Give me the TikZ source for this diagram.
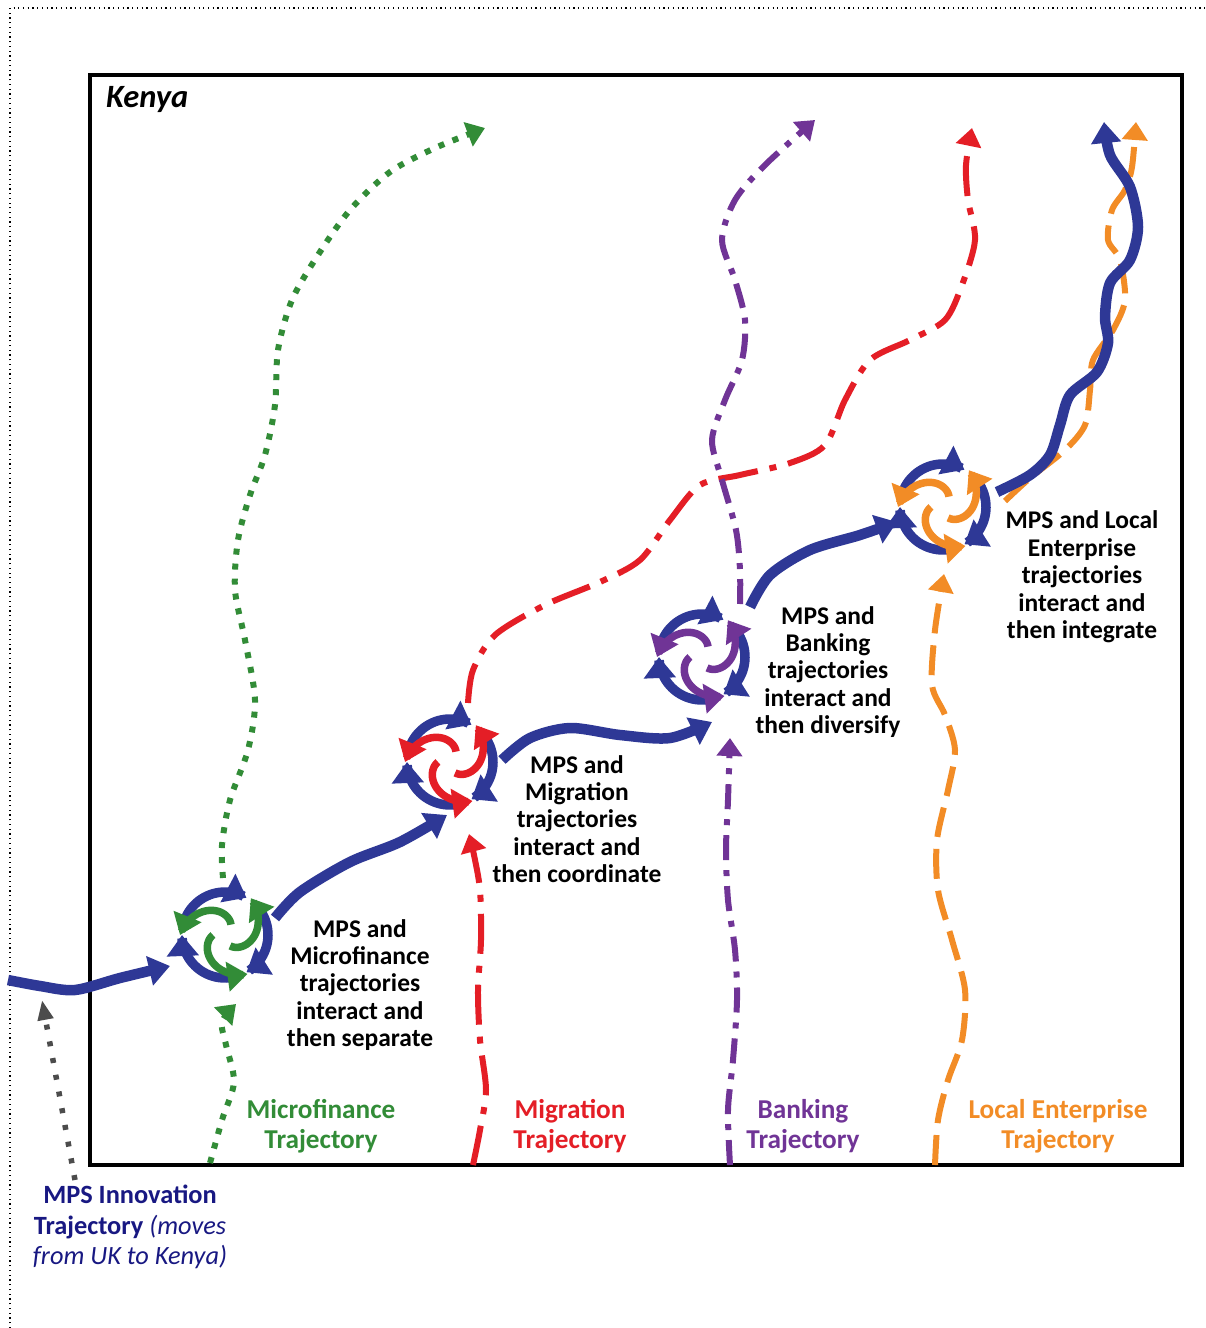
\documentclass[tikz,border=0pt]{standalone}
\usepackage{fontspec}
\setmainfont{Carlito}
\usetikzlibrary{arrows.meta, calc}
\definecolor{mpsblue}{RGB}{46, 56, 150}
\definecolor{mfgreen}{RGB}{50, 140, 55}
\definecolor{migred}{RGB}{228, 30, 38}
\definecolor{bankpurple}{RGB}{112, 52, 150}
\definecolor{leorange}{RGB}{242, 140, 38}
\definecolor{innovnavy}{RGB}{24, 24, 130}

% swirl where two trajectories meet: #1 centre, #2 colour
\newcommand{\swirl}[2]{
    \foreach \a/\b in {195/300, 315/420, 75/180}
        \draw[swirlmps, shift={(#1)}] plot[domain=\a:\b, samples=24] (\x:43);
    \foreach \a in {65, 300, 180}
        \draw[swirlpart, #2, shift={(#1)}] plot[domain=0:1, samples=24] ({\a-120*\x}:{12+33*\x});
}

\begin{document}
\begin{tikzpicture}[
        x=0.02cm, y=-0.02cm,
        mps/.style={mpsblue, line width=0.21cm, -{Triangle[width=0.58cm, length=0.42cm]}},
        traj/.style={line width=0.12cm, -{Triangle[width=0.5cm, length=0.36cm]}},
        swirlmps/.style={mpsblue, line width=0.19cm, -{Triangle[width=0.62cm, length=0.42cm]}},
        swirlpart/.style={line width=0.15cm, -{Triangle[width=0.58cm, length=0.4cm]}},
        note/.style={align=center, font=\fontsize{14.5}{15.6}\selectfont\bfseries},
        lbl/.style={align=center, font=\fontsize{15.5}{16.8}\selectfont\bfseries}
    ]
        \useasboundingbox (0,0) rectangle (1206,1328);

        % Frames
        \draw[dotted, line width=0.7pt] (10,1328) -- (10,8) -- (1206,8);
        \draw[line width=0.08cm] (90,75) rectangle (1182,1165);
        \node[anchor=west, font=\fontsize{18.5}{21}\selectfont\bfseries\itshape] (kenya) at (100,100) {Kenya};

        % Meeting points
        \coordinate (swA) at (225,935);
        \coordinate (swB) at (450,762);
        \coordinate (swC) at (702,657);
        \coordinate (swD) at (943,507);

        % Microfinance trajectory
        \draw[traj, mfgreen, dash pattern=on 0.12cm off 0.18cm] plot[smooth] coordinates {
            (210,1163) (222,1120) (234,1082) (226,1045) (222,1022) (236,1004)};
        \draw[traj, mfgreen, dash pattern=on 0.12cm off 0.18cm] plot[smooth] coordinates {
            (223,878) (222,845) (230,800) (248,750) (255,700) (245,640) (235,590) (238,540)
            (250,495) (265,455) (275,405) (278,350) (292,300) (318,255) (350,210) (390,172)
            (435,148) (485,128)};

        % Migration trajectory
        \draw[traj, migred, dash pattern=on 0.8cm off 0.24cm on 0.14cm off 0.24cm] plot[smooth] coordinates {
            (473,1165) (480,1130) (486,1090) (480,1040) (478,990) (481,940) (480,890) (474,855) (469,834)};
        \draw[traj, migred, dash pattern=on 0.8cm off 0.24cm on 0.14cm off 0.24cm] plot[smooth] coordinates {
            (468,703) (473,670) (495,635) (545,605) (600,582) (640,560) (670,520) (700,485)
            (740,475) (790,463) (825,445) (845,400) (870,360) (910,340) (945,320) (962,285)
            (975,240) (968,200) (966,165) (972,128)};

        % Banking trajectory
        \draw[traj, bankpurple, dash pattern=on 0.5cm off 0.2cm on 0.12cm off 0.2cm] plot[smooth] coordinates {
            (730,1165) (728,1110) (733,1060) (737,1000) (735,950) (728,900) (726,850) (728,800) (730,738)};
        \draw[traj, bankpurple, dash pattern=on 0.5cm off 0.2cm on 0.12cm off 0.2cm] plot[smooth] coordinates {
            (740,604) (740,570) (736,530) (722,480) (712,440) (725,400) (742,360) (745,320)
            (735,280) (722,240) (735,200) (765,165) (815,120)};

        % Local enterprise trajectory
        \draw[traj, leorange, dash pattern=on 0.6cm off 0.24cm] plot[smooth] coordinates {
            (935,1165) (938,1120) (948,1080) (962,1040) (965,990) (952,940) (938,890) (937,840)
            (948,790) (955,750) (945,715) (932,685) (935,630) (944,574)};
        \draw[traj, leorange, dash pattern=on 0.6cm off 0.24cm] plot[smooth] coordinates {
            (1005,501) (1030,478) (1065,450) (1085,425) (1090,390) (1093,360) (1113,330) (1125,300)
            (1120,260) (1108,240) (1112,210) (1125,190) (1132,167) (1136,122)};

        % MPS innovation trajectory
        \draw[mps] plot[smooth] coordinates {(8,980) (40,986) (75,990) (120,978) (170,966)};
        \draw[mps] plot[smooth] coordinates {(275,918) (300,892) (350,862) (400,842) (447,815)};
        \draw[mps] plot[smooth] coordinates {(502,760) (530,738) (570,728) (620,735) (670,738) (712,722)};
        \draw[mps] plot[smooth] coordinates {(750,607) (770,575) (810,550) (860,535) (897,522)};
        \draw[mps] plot[smooth] coordinates {
            (997,492) (1030,475) (1050,455) (1060,425) (1070,395) (1097,372) (1108,343) (1105,317)
            (1110,283) (1130,260) (1138,227) (1130,187) (1110,155) (1104,122)};

        % Swirls
        \swirl{swA}{mfgreen}
        \swirl{swB}{migred}
        \swirl{swC}{bankpurple}
        \swirl{swD}{leorange}

        % Interaction notes
        \node[note] (noteA) at (360,985) {MPS and\\Microfinance\\trajectories\\interact and\\then separate};
        \node[note] (noteB) at (577,819) {MPS and\\Migration\\trajectories\\interact and\\then coordinate};
        \node[note] (noteC) at (828,672) {MPS and\\Banking\\trajectories\\interact and\\then diversify};
        \node[note] (noteD) at (1082,577) {MPS and Local\\Enterprise\\trajectories\\interact and\\then integrate};

        % Trajectory labels
        \node[lbl, mfgreen] (lblA) at (321,1126) {Microfinance\\Trajectory};
        \node[lbl, migred] (lblB) at (570,1126) {Migration\\Trajectory};
        \node[lbl, bankpurple] (lblC) at (803,1126) {Banking\\Trajectory};
        \node[lbl, leorange] (lblD) at (1058,1126) {Local Enterprise\\Trajectory};

        % MPS origin
        \node[lbl, innovnavy, font=\fontsize{15}{17.2}\selectfont\bfseries] (innov) at (130,1227)
            {MPS Innovation\\Trajectory {\mdseries\itshape(moves}\\{\mdseries\itshape from UK to Kenya)}};
        \coordinate (innovOut) at (75,1180);
        \coordinate (innovIn) at (42,1000);
        \draw[gray!60!black, line width=0.11cm, dash pattern=on 0.1cm off 0.24cm,
            -{Triangle[width=0.3cm, length=0.4cm]}] (innovOut) -- (innovIn);
\end{tikzpicture}
\end{document}
